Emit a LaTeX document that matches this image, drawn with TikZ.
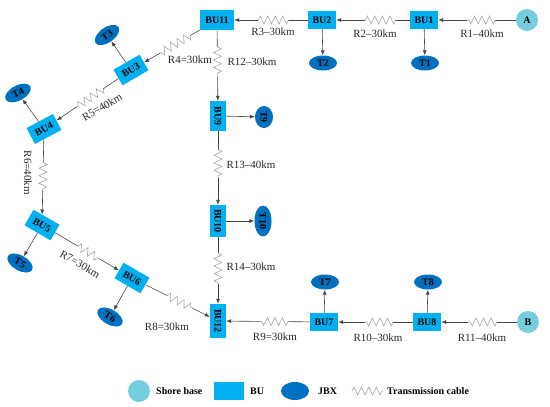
\documentclass[tikz,border=0pt]{standalone}
\usepackage{fontspec}
\setmainfont{Liberation Serif}
\usetikzlibrary{shapes.geometric,calc,decorations.pathmorphing,arrows.meta}
\definecolor{bucol}{RGB}{0,176,240}
\definecolor{jbxcol}{RGB}{0,112,192}
\definecolor{shorecol}{RGB}{116,206,222}
\definecolor{wirecol}{RGB}{70,70,70}
\definecolor{zzcol}{RGB}{165,165,165}
\definecolor{labcol}{RGB}{40,40,40}
\newcommand\mycable[5]{%
  \coordinate (#5a) at ($(#1)!#3!(#2)$);
  \coordinate (#5b) at ($(#1)!#4!(#2)$);
  \draw[wire] (#1) -- (#5a);
  \draw[zz] (#5a) -- (#5b);
  \draw[wire,arr] (#5b) -- (#2);
}
\tikzset{
  bu/.style={rectangle, fill=bucol, minimum width=28pt, minimum height=18pt, inner sep=2pt, font=\bfseries\fontsize{10}{10}\selectfont},
  jbx/.style={ellipse, fill=jbxcol, minimum width=28pt, minimum height=15pt, inner sep=0pt, font=\bfseries\fontsize{10}{10}\selectfont},
  shore/.style={circle, fill=shorecol, minimum size=22pt, inner sep=0pt, font=\bfseries\fontsize{10}{10}\selectfont},
  lbl/.style={font=\fontsize{11}{11}\selectfont, text=labcol, inner sep=0pt},
  leg/.style={font=\bfseries\fontsize{10}{10}\selectfont, inner sep=0pt, anchor=west},
  wire/.style={draw=wirecol, line width=0.6pt},
  arr/.style={-{Latex[length=5pt,width=4pt]}},
  zz/.style={draw=zzcol, line width=0.6pt, decorate, decoration={zigzag, segment length=7.5pt, amplitude=4pt}}
}
\begin{document}
\begin{tikzpicture}[x=1pt,y=-1pt]
\useasboundingbox (0,0) rectangle (550,407);
% nodes
\node[shore] (A) at (527,20) {A};
\node[bu] (BU1) at (424,20) {BU1};
\node[jbx] (T1) at (425,63) {T1};
\node[bu] (BU2) at (322,20) {BU2};
\node[jbx] (T2) at (323,63) {T2};
\node[bu, minimum width=34pt, minimum height=20pt] (BU11) at (217,20) {BU11};
\node[bu, rotate=30, minimum width=30pt] (BU3) at (131,70) {BU3};
\node[jbx, rotate=35] (T3) at (107,35) {T3};
\node[bu, rotate=28, minimum width=30pt] (BU4) at (44,129) {BU4};
\node[jbx, rotate=28] (T4) at (18,93) {T4};
\node[bu, rotate=-30, minimum width=30pt] (BU5) at (42,225) {BU5};
\node[jbx, rotate=-30] (T5) at (20,263) {T5};
\node[bu, rotate=-30, minimum width=30pt] (BU6) at (132,278) {BU6};
\node[jbx, rotate=-30] (T6) at (110,317) {T6};
\node[bu, rotate=-90, minimum width=30pt, minimum height=16pt] (BU9) at (218,116) {BU9};
\node[jbx, rotate=-90, minimum width=22pt, minimum height=18pt] (T9) at (264,117) {T9};
\node[bu, rotate=-90, minimum width=32pt, minimum height=16pt] (BU10) at (218,221) {BU10};
\node[jbx, rotate=-90, minimum width=31pt, minimum height=17pt] (T10) at (263,221) {T10};
\node[bu, rotate=-90, minimum width=34pt, minimum height=16pt] (BU12) at (218,321) {BU12};
\node[bu] (BU7) at (324,322) {BU7};
\node[jbx] (T7) at (325,282) {T7};
\node[bu] (BU8) at (427,322) {BU8};
\node[jbx] (T8) at (428,282) {T8};
\node[shore] (B) at (528,322) {B};
% cables
\mycable{A}{BU1}{0.31}{0.58}{c1}
\mycable{BU1}{BU2}{0.28}{0.58}{c2}
\mycable{BU2}{BU11}{0.32}{0.61}{c3}
\mycable{BU11}{BU3}{0.31}{0.66}{c4}
\mycable{BU3}{BU4}{0.32}{0.62}{c5}
\mycable{BU4}{BU5}{0.35}{0.64}{c6}
\mycable{BU5}{BU6}{0.40}{0.64}{c7}
\mycable{BU6}{BU12}{0.41}{0.70}{c8}
\mycable{BU11}{BU9}{0.28}{0.59}{c12}
\mycable{BU9}{BU10}{0.32}{0.59}{c13}
\mycable{BU10}{BU12}{0.32}{0.63}{c14}
\mycable{B}{BU8}{0.31}{0.59}{c11}
\mycable{BU8}{BU7}{0.33}{0.60}{c10}
\mycable{BU7}{BU12}{0.34}{0.60}{c9}
% BU to JBX
\draw[wire,arr] (BU1) -- (T1);
\draw[wire,arr] (BU2) -- (T2);
\draw[wire,arr] (BU3) -- (T3);
\draw[wire,arr] (BU4) -- (T4);
\draw[wire,arr] (BU5) -- (T5);
\draw[wire,arr] (BU6) -- (T6);
\draw[wire,arr] (BU9) -- (T9);
\draw[wire,arr] (BU10) -- (T10);
\draw[wire,arr] (BU7) -- (T7);
\draw[wire,arr] (BU8) -- (T8);
% labels
\node[lbl] (l1) at (482,34) {R1–40km};
\node[lbl] (l2) at (375,34) {R2–30km};
\node[lbl] (l3) at (273,32) {R3–30km};
\node[lbl] (l4) at (190,60) {R4=30km};
\node[lbl] (l12) at (252,62) {R12–30km};
\node[lbl, rotate=30] (l5) at (102,107) {R5=40km};
\node[lbl, rotate=-90] (l6) at (28,173) {R6=40km};
\node[lbl] (l13) at (251,165) {R13–40km};
\node[lbl] (l14) at (251,267) {R14–30km};
\node[lbl, rotate=-30] (l7) at (80,264) {R7=30km};
\node[lbl] (l8) at (167,327) {R8=30km};
\node[lbl] (l9) at (275,337) {R9=30km};
\node[lbl] (l10) at (378,338) {R10–30km};
\node[lbl] (l11) at (482,338) {R11–40km};
% legend
\node[shore] (gs) at (139,391) {};
\node[leg] (gst) at (156,391) {Shore base};
\node[bu, minimum width=30pt, minimum height=18pt] (gb) at (229,391) {};
\node[leg] (gbt) at (250,391) {BU};
\node[jbx, minimum width=28pt, minimum height=18pt] (gj) at (295,391) {};
\node[leg] (gjt) at (318,391) {JBX};
\coordinate (gz1) at (352,391);
\coordinate (gz2) at (383,391);
\draw[zz] (gz1) -- (gz2);
\node[leg] (gzt) at (387,391) {Transmission cable};
\end{tikzpicture}
\end{document}
